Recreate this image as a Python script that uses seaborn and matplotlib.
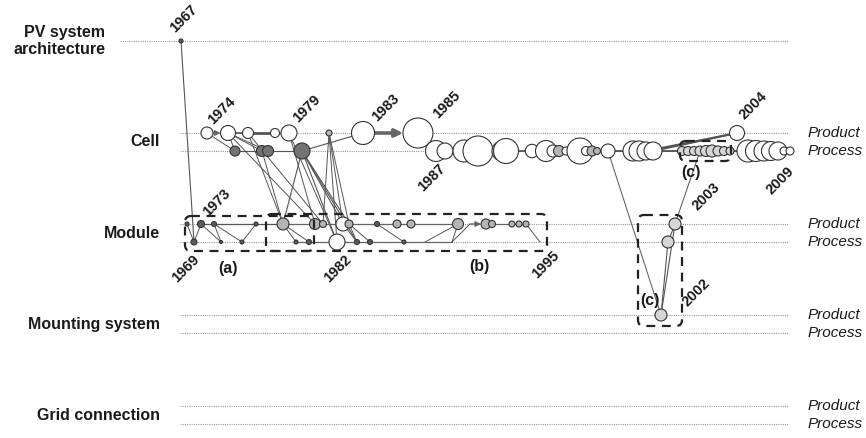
import numpy as np
import pandas as pd
import matplotlib.pyplot as plt
import seaborn as sns
from matplotlib.patches import FancyBboxPatch

sns.set_theme(style="white")
plt.rcParams['font.family'] = ['Liberation Sans', 'DejaVu Sans']

# ---- levels (lanes) ----
level_labels = ["PV system\narchitecture", "Cell", "Module", "Mounting system", "Grid connection"]
lane_keys = ["pv", "cell_prod", "cell_proc", "mod_prod", "mod_proc",
             "mnt_prod", "mnt_proc", "grid_prod", "grid_proc"]
lane_pos = [41, 133, 151, 224, 242, 315, 333, 406, 424]
lane_y = dict(zip(lane_keys, lane_pos))

# ---- nodes: id, layout position, lane, radius, type ----
node_id = ["n0",
           "c1", "c2", "c3", "c4", "c5", "c6", "c7", "c8", "c9",
           "d1", "d2", "d3", "d4",
           "p1", "p2", "p3", "p4", "p5", "p6", "p7", "p8", "p9", "p10",
           "p11", "p12", "p13", "p14", "p15", "p16", "p17", "p18", "p19", "p20",
           "p21", "p22", "p23", "p24", "p25", "p26", "p27", "p28", "p29",
           "p30", "p31", "p32", "p33", "p34", "p35", "p36",
           "m1", "m2", "m3", "m4", "m5", "m6", "m7", "m8", "m9", "m10",
           "m11", "m12", "m13", "m14", "m15", "m16", "m17", "m18", "m19",
           "q1", "q2", "q3", "q4", "q5", "q6", "q7", "q8", "q9", "q10",
           "w1", "w2", "w3", "w4",
           "t1"]
node_x = [181,
          207, 228, 248, 275, 289, 329, 363, 418, 737,
          235, 262, 268, 302,
          436, 445, 464, 478, 502, 506, 532, 546, 553, 559,
          566, 580, 586, 592, 597, 608, 633, 639, 646, 653,
          682, 688, 694, 700, 706, 712, 718, 724, 730,
          748, 756, 764, 771, 778, 784, 790,
          187, 201, 214, 256, 283, 315, 323, 343, 349, 377,
          397, 411, 458, 486, 492, 512, 519, 526, 675,
          194, 221, 242, 296, 309, 337, 357, 370, 404, 668,
          425, 452, 470, 540,
          661]
node_lane = (["pv"] + ["cell_prod"] * 9 + ["cell_proc"] * 4 + ["cell_proc"] * 36
             + ["mod_prod"] * 19 + ["mod_proc"] * 10
             + ["mod_proc", "mod_proc", "mod_prod", "mod_proc"] + ["mnt_prod"])
node_r = [2,
          6, 7.5, 5.5, 4.5, 8, 3, 11.5, 15, 7.5,
          5, 5.5, 5.5, 8,
          10.5, 8, 11, 15, 10, 12.5, 6.7, 10.5, 6, 5.5,
          4, 13, 4.5, 5, 3.5, 7, 10, 10, 9, 9,
          4.5, 4.5, 4.5, 5, 5.5, 6, 5, 4.5, 4,
          11, 10.5, 10, 9.5, 9, 4, 4,
          2, 3.5, 2.5, 2, 6, 5.5, 3.5, 7, 4, 2.5,
          4, 4, 5.5, 5, 3.5, 3, 3, 3, 6,
          3, 1.5, 2, 2, 2.5, 8, 2.5, 2.5, 2, 6,
          0, 0, 0, 0,
          6]
node_kind = (["small"]
             + ["white"] * 5 + ["grey"] + ["white"] * 3
             + ["dark"] * 4
             + ["white"] * 9 + ["grey"] + ["white"] * 3 + ["grey", "grey"] + ["white"] * 5
             + ["light"] * 9 + ["white"] * 7
             + ["small"] * 4 + ["grey"] * 3 + ["white", "grey", "small"] + ["grey"] * 8 + ["light"]
             + ["small"] * 5 + ["white"] + ["small"] * 3 + ["light"]
             + ["small"] * 4
             + ["light"])

# ---- links between patents (citations) ----
edge_src = ["n0", "c1", "c2", "c2", "c2", "c2", "c3", "c4", "d1", "d3", "d4",
            "c3", "c2", "c3", "c5", "c5", "d2", "d4", "d4", "d4", "d4", "d4",
            "c6", "c6", "c6", "c6", "c8",
            "m1", "q1", "m2", "m2", "m3", "m3", "q3", "m3", "m4", "m5", "m5",
            "m8", "m9", "m9", "m10", "m13", "m13", "w2", "m18",
            "p16", "t1", "t1", "q10", "m19", "p19", "p20"]
edge_dst = ["q1", "d1", "d1", "d2", "d3", "c3", "c4", "c5", "d2", "d4", "c7",
            "m5", "m6", "m7", "m6", "q6", "m5", "m5", "m8", "m9", "q6", "q7",
            "m7", "m8", "m9", "q6", "p1",
            "q1", "m2", "m3", "q2", "q2", "q3", "m4", "m4", "m5", "q4", "q5",
            "q7", "q8", "q7", "q9", "w1", "w2", "w3", "w4",
            "t1", "q10", "m19", "m19", "p24", "c9", "c9"]
edge_w = [0.8, 0.7, 0.7, 0.7, 0.7, 1.2, 2.0, 0.8, 0.8, 0.8, 0.8,
          0.7, 0.7, 0.7, 0.7, 0.7, 0.7, 0.8, 0.8, 0.8, 0.8, 0.8,
          0.7, 0.7, 0.7, 0.7, 1.0,
          0.7, 0.7, 0.9, 0.7, 0.7, 0.7, 0.7, 0.9, 0.9, 0.7, 0.7,
          0.7, 0.7, 0.7, 0.7, 0.7, 0.7, 0.7, 0.7,
          0.7, 0.8, 0.8, 0.8, 0.7, 1.4, 1.4]

# main paths along a lane
cell_chain = ["p%d" % i for i in range(1, 37)]
mod_prod_chain = ["m5", "m6", "m7", "m8", "m9", "m10", "m11", "m12", "m13"]
mod_prod_chain2 = ["m14", "m15", "m16", "m17", "m18"]
mod_proc_chain = ["q4", "q5", "q6", "q7", "q8", "q9", "w1", "w2"]

# arrows: (src, dst, width)
arrow_src = ["c1", "c7", "w3"]
arrow_dst = ["c2", "c8", "m14"]
arrow_w = [1.0, 2.6, 1.0]

year_text = ["1967", "1974", "1979", "1983", "1985", "1987", "1973", "1969",
             "1982", "1995", "2002", "2003", "2004", "2009"]
year_pos = [(184, 19), (222, 111), (307, 109), (386, 108), (447, 105), (432, 178),
            (217, 203), (186, 269), (338, 269), (546, 265), (696, 293),
            (706, 197), (753, 106), (780, 181)]

# ---- build table ----
nodes = pd.DataFrame({"id": node_id, "x": node_x, "lane": node_lane,
                      "r": node_r, "kind": node_kind})
nodes["y"] = nodes["lane"].map(lane_y)
# radius in pixels -> marker area in pt^2 (dpi 100)
nodes["area"] = (2 * nodes["r"] * 0.72) ** 2
pos = {row.id: (row.x, row.y) for row in nodes.itertuples()}
rad = dict(zip(nodes["id"], nodes["r"]))

palette = {"white": "#ffffff", "grey": "#b4b4b4", "dark": "#737373",
           "small": "#5c5c5c", "light": "#d6d6d6"}

fig = plt.figure(figsize=(8.66, 4.38), dpi=100)
ax = fig.add_axes([0, 0, 1, 1])
ax.set_xlim(0, 866)
ax.set_ylim(438, 0)
ax.axis('off')

# lanes
for k, yv in lane_y.items():
    x0 = 120 if k == "pv" else 180
    ax.plot([x0, 789], [yv, yv], color="#9a9a9a", lw=0.8, ls=(0, (1, 1)), zorder=1)

label_y = [41, 142, 233, 324, 415]
for lab, yv in zip(level_labels, label_y):
    xr = 105 if "PV" in lab else 160
    ax.text(xr, yv, lab, ha="right", va="center", fontsize=11.5,
            fontweight="bold", color="#1a1a1a", linespacing=1.15)
for k in ["cell", "mod", "mnt", "grid"]:
    ax.text(808, lane_y[k + "_prod"], "Product", ha="left", va="center",
            fontsize=11, style="italic", color="#1a1a1a")
    ax.text(808, lane_y[k + "_proc"], "Process", ha="left", va="center",
            fontsize=11, style="italic", color="#1a1a1a")

# links
for s, d, w in zip(edge_src, edge_dst, edge_w):
    (x1, y1), (x2, y2) = pos[s], pos[d]
    ax.plot([x1, x2], [y1, y2], color="#555555", lw=w, zorder=2)

for chain, w, c in [(cell_chain, 1.2, "#444444"), (mod_prod_chain, 0.9, "#666666"),
                    (mod_prod_chain2, 0.9, "#666666"), (mod_proc_chain, 0.9, "#666666")]:
    ax.plot([pos[n][0] for n in chain], [pos[n][1] for n in chain],
            color=c, lw=w, zorder=2)

for s, d, w in zip(arrow_src, arrow_dst, arrow_w):
    ax.annotate("", xy=(pos[d][0] - rad[d], pos[d][1]),
                xytext=(pos[s][0] + rad[s], pos[s][1]),
                arrowprops=dict(arrowstyle="-|>", color="#666666", lw=w,
                                mutation_scale=6 + 2 * w, shrinkA=0, shrinkB=0),
                zorder=2)

# nodes
sns.scatterplot(data=nodes[nodes["r"] > 0], x="x", y="y", hue="kind",
                palette=palette, s=nodes.loc[nodes["r"] > 0, "area"].values,
                edgecolor="#333333", linewidth=0.8, legend=False, zorder=3, ax=ax)

# dashed groups
boxes = [(185, 216, 129, 35), (266, 214, 281, 37), (638, 215, 44, 111), (680, 141, 51, 20)]
for bx, by, bw, bh in boxes:
    ax.add_patch(FancyBboxPatch((bx, by), bw, bh,
                                boxstyle="round,pad=0,rounding_size=6",
                                fill=False, ec="#222222", lw=1.6,
                                ls=(0, (4, 3)), zorder=4))
for t, (tx, ty) in zip(["(a)", "(b)", "(c)", "(c)"],
                       [(228, 268), (479, 266), (691, 172), (650, 301)]):
    ax.text(tx, ty, t, ha="center", va="center", fontsize=11.5,
            fontweight="bold", color="#1a1a1a")

for t, (tx, ty) in zip(year_text, year_pos):
    ax.text(tx, ty, t, ha="center", va="center", rotation=45, fontsize=10.5,
            fontweight="bold", color="#1a1a1a", rotation_mode="anchor")

fig.savefig("out.png", dpi=100)
